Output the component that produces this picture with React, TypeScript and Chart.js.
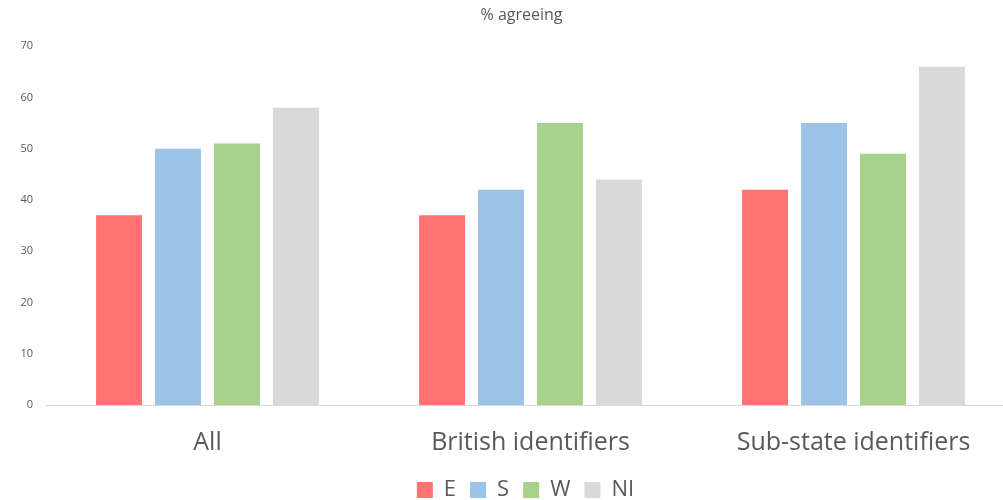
import React, { useEffect, useRef } from "react";
import { Chart, registerables } from "chart.js";

Chart.register(...registerables);

const categories = ["All", "British identifiers", "Sub-state identifiers"];
const seriesE = [37, 37, 42];
const seriesS = [50, 42, 55];
const seriesW = [51, 55, 49];
const seriesNI = [58, 44, 66];
const seriesNames = ["E", "S", "W", "NI"];
const colors = ["#FF7373", "#9DC3E6", "#A9D18E", "#D9D9D9"];

const FONT = "'Open Sans', sans-serif";
const TEXT = "#595959";

const blockShift = {
  id: "blockShift",
  afterLayout(chart: any) {
    const l = chart.legend;
    if (l) {
      l.left += 18;
      l.right += 18;
    }
    const t = chart.titleBlock;
    if (t) {
      t.left += 14;
      t.right += 14;
    }
  },
};

export default function App() {
  const ref = useRef<HTMLCanvasElement>(null);
  useEffect(() => {
    const values = [seriesE, seriesS, seriesW, seriesNI];
    const chart = new Chart(ref.current!, {
      type: "bar",
      data: {
        labels: categories,
        datasets: seriesNames.map((n, i) => ({
          label: n,
          data: values[i],
          backgroundColor: colors[i],
          borderWidth: 0,
          barPercentage: 0.78,
          categoryPercentage: 0.73,
        })),
      },
      plugins: [blockShift],
      options: {
        animation: false,
        responsive: false,
        maintainAspectRatio: false,
        layout: { padding: { left: 0, right: 0, top: 0, bottom: 0 } },
        plugins: {
          tooltip: { enabled: false },
          title: {
            display: true,
            text: "% agreeing",
            color: TEXT,
            font: { family: FONT, size: 16, weight: "normal" },
            padding: { top: 6, bottom: 21 },
          },
          legend: {
            position: "bottom",
            labels: {
              color: TEXT,
              font: { family: FONT, size: 22 },
              boxWidth: 16,
              boxHeight: 16,
              padding: 14,
            },
          },
        },
        scales: {
          y: {
            min: 0,
            max: 70,
            ticks: { stepSize: 10, color: TEXT, font: { family: FONT, size: 11 }, padding: 5 },
            grid: { display: false },
            border: { display: false },
            afterFit: (s: any) => {
              s.width = 46;
            },
          },
          x: {
            ticks: { color: TEXT, font: { family: FONT, size: 25 }, padding: 23 },
            grid: { display: false, drawTicks: false },
            border: { display: true, color: "#D9D9D9", width: 1 },
            afterFit: (s: any) => {
              s.height = 60;
            },
          },
        },
      },
    });
    return () => chart.destroy();
  }, []);
  return (
    <div style={{ position: "absolute", left: 0, top: 0, width: 1003, height: 500, overflow: "hidden", background: "#fff" }}>
      <canvas ref={ref} width={1015} height={511} style={{ display: "block" }} />
    </div>
  );
}
